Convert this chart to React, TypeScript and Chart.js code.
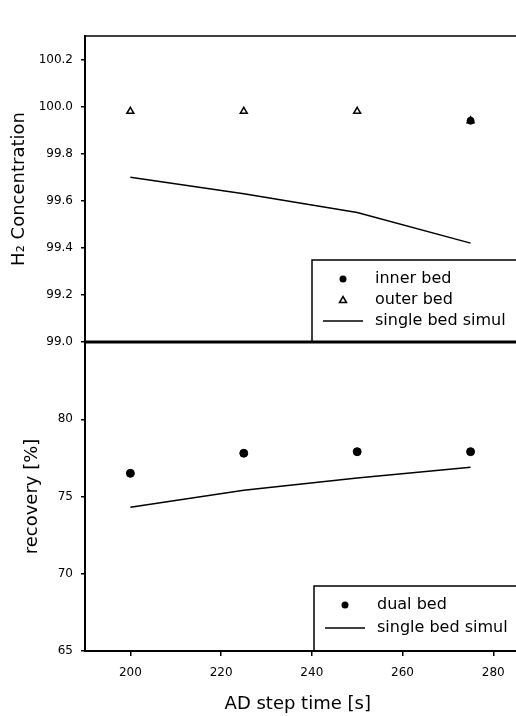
import React, { useEffect, useRef } from 'react';
import { Chart, registerables } from 'chart.js';

Chart.register(...registerables);

const STEP_TIMES = [200, 225, 250, 275];
const INNER_BED: (number | null)[] = [null, null, null, 99.94];
const OUTER_BED = [99.98, 99.98, 99.98, 99.94];
const SIMUL_H2 = [99.7, 99.63, 99.55, 99.42];
const DUAL_BED = [76.5, 77.8, 77.9, 77.9];
const SIMUL_REC = [74.3, 75.4, 76.2, 76.9];

const X_TICKS = [200, 220, 240, 260, 280];
const H2_TICKS = [99.0, 99.2, 99.4, 99.6, 99.8, 100.0, 100.2];
const REC_TICKS = [65, 70, 75, 80];

const TOP_LEGEND = ['inner bed', 'outer bed', 'single bed simul'];
const BOT_LEGEND = ['dual bed', 'single bed simul'];

const FONT = 'DejaVu Sans';

const pts = (ys: (number | null)[]) =>
  STEP_TIMES.map((x, i) => ({ x, y: ys[i] })).filter((p) => p.y !== null) as { x: number; y: number }[];

function drawMarker(ctx: CanvasRenderingContext2D, kind: string, cx: number, cy: number) {
  ctx.save();
  ctx.strokeStyle = '#000';
  ctx.fillStyle = '#000';
  if (kind === 'circle') {
    ctx.beginPath();
    ctx.arc(cx, cy, 3.5, 0, Math.PI * 2);
    ctx.fill();
  } else if (kind === 'triangle') {
    ctx.lineWidth = 1.5;
    ctx.beginPath();
    ctx.moveTo(cx, cy - 3.5);
    ctx.lineTo(cx + 3.5, cy + 2.5);
    ctx.lineTo(cx - 3.5, cy + 2.5);
    ctx.closePath();
    ctx.stroke();
  } else {
    ctx.lineWidth = 1.5;
    ctx.beginPath();
    ctx.moveTo(cx - 20, cy);
    ctx.lineTo(cx + 20, cy);
    ctx.stroke();
  }
  ctx.restore();
}

function drawLegend(
  ctx: CanvasRenderingContext2D,
  left: number,
  top: number,
  bottom: number,
  right: number,
  labels: string[],
  kinds: string[],
  rowGap: number
) {
  ctx.save();
  ctx.strokeStyle = '#000';
  ctx.lineWidth = 1.5;
  ctx.strokeRect(left, top, right - left, bottom - top);
  ctx.font = `16px "${FONT}"`;
  ctx.fillStyle = '#000';
  ctx.textBaseline = 'middle';
  ctx.textAlign = 'left';
  labels.forEach((lab, i) => {
    const y = top + 19 + i * rowGap;
    drawMarker(ctx, kinds[i], left + 31, y);
    ctx.fillText(lab, left + 63, y);
  });
  ctx.restore();
}

const framePlugin = {
  id: 'frame',
  afterDraw(chart: any) {
    const ctx: CanvasRenderingContext2D = chart.ctx;
    const ca = chart.chartArea;
    const yTop = chart.scales.yTop;
    const yBot = chart.scales.yBot;
    const xs = chart.scales.x;
    const edge = chart.width + 5;
    ctx.save();
    ctx.strokeStyle = '#000';
    ctx.lineWidth = 1.5;
    ctx.beginPath();
    ctx.moveTo(ca.left - 1, ca.top);
    ctx.lineTo(edge, ca.top);
    ctx.stroke();
    ctx.lineWidth = 3;
    ctx.beginPath();
    ctx.moveTo(ca.left - 1, yBot.top);
    ctx.lineTo(edge, yBot.top);
    ctx.stroke();
    // extend the bottom axis line to the page edge
    ctx.lineWidth = 2;
    ctx.beginPath();
    ctx.moveTo(ca.right - 2, Math.round(xs.top));
    ctx.lineTo(edge, Math.round(xs.top));
    ctx.stroke();
    ctx.restore();

    drawLegend(ctx, ca.left + 227, yTop.bottom - 82, yTop.bottom, edge, TOP_LEGEND, ['circle', 'triangle', 'line'], 21);
    drawLegend(ctx, ca.left + 229, yBot.bottom - 65, yBot.bottom, edge, BOT_LEGEND, ['circle', 'line'], 23);
  },
};

export default function App() {
  const ref = useRef<HTMLCanvasElement | null>(null);

  useEffect(() => {
    if (!ref.current) return;
    const tickFont = { family: FONT, size: 12 };
    const titleFont = { family: FONT, size: 18 };
    const grid = { drawOnChartArea: false, drawTicks: true, tickLength: 4, color: '#000', lineWidth: 1.5 };
    const chart = new Chart(ref.current, {
      type: 'scatter',
      data: {
        datasets: [
          {
            label: 'inner bed',
            data: pts(INNER_BED),
            yAxisID: 'yTop',
            showLine: false,
            pointStyle: 'circle',
            pointRadius: 3.5,
            backgroundColor: '#000',
            borderColor: '#000',
          },
          {
            label: 'outer bed',
            data: pts(OUTER_BED),
            yAxisID: 'yTop',
            showLine: false,
            pointStyle: 'triangle',
            pointRadius: 4,
            borderWidth: 1.5,
            backgroundColor: '#fff',
            borderColor: '#000',
          },
          {
            label: 'single bed simul',
            data: pts(SIMUL_H2),
            yAxisID: 'yTop',
            showLine: true,
            pointRadius: 0,
            borderColor: '#000',
            borderWidth: 1.5,
            tension: 0,
          },
          {
            label: 'dual bed',
            data: pts(DUAL_BED),
            yAxisID: 'yBot',
            showLine: false,
            pointStyle: 'circle',
            pointRadius: 4,
            backgroundColor: '#000',
            borderColor: '#000',
          },
          {
            label: 'single bed simul ',
            data: pts(SIMUL_REC),
            yAxisID: 'yBot',
            showLine: true,
            pointRadius: 0,
            borderColor: '#000',
            borderWidth: 1.5,
            tension: 0,
          },
        ],
      },
      options: {
        animation: false,
        responsive: false,
        devicePixelRatio: 1,
        layout: { padding: { top: 36, right: 0, bottom: 0, left: 0 } },
        plugins: { legend: { display: false }, tooltip: { enabled: false } },
        scales: {
          x: {
            type: 'linear',
            min: 190,
            max: 283.8,
            afterBuildTicks: (s: any) => {
              s.ticks = X_TICKS.map((v) => ({ value: v }));
            },
            ticks: { font: tickFont, color: '#000', padding: 10, maxRotation: 0, autoSkip: false },
            grid: { ...grid, tickLength: 5 },
            border: { color: '#000', width: 2 },
            title: { display: true, text: 'AD step time [s]', font: titleFont, color: '#000', padding: { top: 4, bottom: 1 } },
            afterFit: (s: any) => {
              s.height = 65;
              s.paddingLeft = 0;
              s.paddingRight = 0;
            },
          },
          yBot: {
            type: 'linear',
            position: 'left',
            stack: 'panels',
            stackWeight: 309,
            min: 65,
            max: 85,
            afterBuildTicks: (s: any) => {
              s.ticks = REC_TICKS.map((v) => ({ value: v }));
            },
            ticks: { font: tickFont, color: '#000', padding: 8, autoSkip: false, callback: (v: any) => String(v) },
            grid,
            border: { color: '#000', width: 2 },
            title: { display: true, text: 'recovery [%]', font: titleFont, color: '#000', padding: { top: 22, bottom: 2 } },
            afterFit: (s: any) => {
              s.width = 85;
            },
          },
          yTop: {
            type: 'linear',
            position: 'left',
            stack: 'panels',
            stackWeight: 306,
            min: 99.0,
            max: 100.3,
            afterBuildTicks: (s: any) => {
              s.ticks = H2_TICKS.map((v) => ({ value: v }));
            },
            ticks: { font: tickFont, color: '#000', padding: 8, autoSkip: false, callback: (v: any) => Number(v).toFixed(1) },
            grid,
            border: { color: '#000', width: 2 },
            title: { display: true, text: 'H\u2082 Concentration', font: titleFont, color: '#000', padding: { top: 9, bottom: 2 } },
            afterFit: (s: any) => {
              s.width = 85;
            },
          },
        },
      } as any,
      plugins: [framePlugin],
    });
    return () => chart.destroy();
  }, []);

  return (
    <canvas
      ref={ref}
      width={516}
      height={716}
      style={{ position: 'absolute', left: 0, top: 0, width: '516px', height: '716px', background: '#fff' }}
    />
  );
}
